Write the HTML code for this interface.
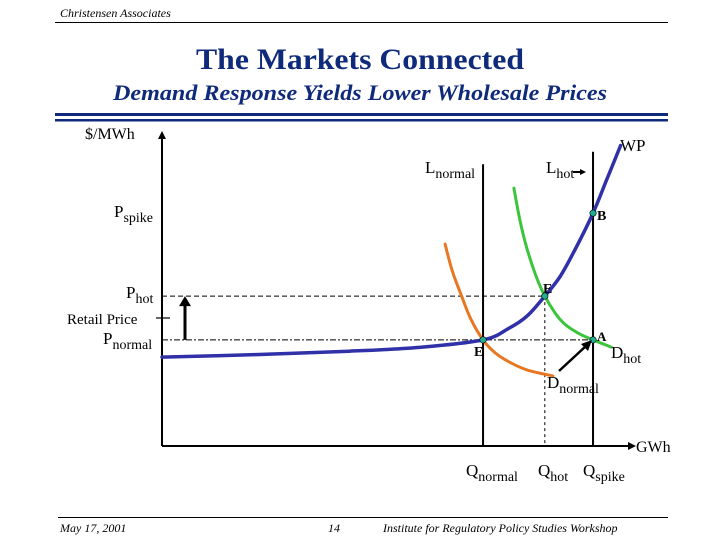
<!DOCTYPE html>
<html><head><meta charset="utf-8"><style>
html,body{margin:0;padding:0;background:#fff}
body{width:720px;height:540px;overflow:hidden;position:relative;font-family:"Liberation Serif",serif}
svg{position:absolute;left:0;top:0}
</style></head><body>
<svg width="720" height="540">
<text x="60" y="17" font-size="12" font-style="italic">Christensen Associates</text>
<line x1="55" y1="22.5" x2="668" y2="22.5" stroke="#000" stroke-width="1"/>
<text x="196" y="69" font-size="30" font-weight="bold" fill="#0f2a7a" textLength="328" lengthAdjust="spacingAndGlyphs">The Markets Connected</text>
<text x="113" y="100" font-size="22" font-weight="bold" font-style="italic" fill="#0f2a7a" textLength="494" lengthAdjust="spacingAndGlyphs">Demand Response Yields Lower Wholesale Prices</text>
<rect x="55" y="113" width="613" height="3" fill="#0f2a7a"/>
<rect x="55" y="119" width="613" height="2.5" fill="#0f2a7a"/>
<g id="chart"></g>
<line x1="58" y1="517.5" x2="668" y2="517.5" stroke="#000" stroke-width="1"/>
<text x="60" y="532" font-size="12" font-style="italic">May 17, 2001</text>
<text x="328" y="532" font-size="12" font-style="italic">14</text>
<text x="383" y="532" font-size="12" font-style="italic">Institute for Regulatory Policy Studies Workshop</text>
</svg>
<script>
const wpCurve=[[0,28.4],[20,29.2],[40,30.3],[55,31.5],[68.6,33.9],[74,37.5],[78,41.5],[81.8,47.9],[85,54],[88,62],[92.1,74.4],[95,85],[98,96]];
const dNormal=[[60.5,64.5],[62,56],[64,48],[66,40.5],[68.6,33.9],[71,30],[74,27],[78,24.3],[83.5,22.4]];
const dHot=[[75.2,82.4],[76.5,72],[78,63],[80,54],[81.8,47.9],[84,42.5],[86,39],[89,36],[92.1,33.9],[96,31.6]];
const qNormal=68.6, qHot=81.8, qSpike=92.1;
const pNormal=33.9, pHot=47.9, pSpike=74.4, pRetail=40.9;
const X=d=>162+d*4.68, Y=d=>446-d*3.13;
const g=document.getElementById('chart');
const NS='http://www.w3.org/2000/svg';
function mk(tag,attrs,name){const e=document.createElementNS(NS,tag);for(const k in attrs)e.setAttribute(k,attrs[k]);


g.appendChild(e);return e;}
function line(x1,y1,x2,y2,st,w,dash,name){const a={x1,y1,x2,y2,stroke:st,'stroke-width':w};if(dash)a['stroke-dasharray']=dash;return mk('line',a,name);}
function curve(pts,col,w,name){
  const P=pts.map(q=>[X(q[0]),Y(q[1])]);
  let d='M'+P[0][0].toFixed(1)+','+P[0][1].toFixed(1);
  for(let i=0;i<P.length-1;i++){
    const p0=P[Math.max(i-1,0)],p1=P[i],p2=P[i+1],p3=P[Math.min(i+2,P.length-1)];
    const c1=[p1[0]+(p2[0]-p0[0])/6,p1[1]+(p2[1]-p0[1])/6];
    const c2=[p2[0]-(p3[0]-p1[0])/6,p2[1]-(p3[1]-p1[1])/6];
    d+=` C${c1[0].toFixed(1)},${c1[1].toFixed(1)} ${c2[0].toFixed(1)},${c2[1].toFixed(1)} ${p2[0].toFixed(1)},${p2[1].toFixed(1)}`;
  }
  return mk('path',{d,fill:'none',stroke:col,'stroke-width':w,'stroke-linecap':'round'},name);}
function txt(x,y,s,sub,name,size,bold){const t=mk('text',{x,y,'font-size':size||16,'font-weight':bold?'bold':'normal'},name);t.textContent=s;if(sub){const ts=document.createElementNS(NS,'tspan');ts.setAttribute('dy','5');ts.setAttribute('font-size','14');ts.textContent=sub;t.appendChild(ts);}return t;}
line(X(0),Y(pHot),X(qHot),Y(pHot),'#000',1,'5,3','p-hot-guide');
line(X(0),Y(pNormal),X(qSpike),Y(pNormal),'#000',1,'6,2,2,2','p-normal-guide');
line(X(qHot),Y(pHot),X(qHot),446,'#000',1,'3,3','q-hot-guide');
line(X(qNormal),Y(90),X(qNormal),446,'#000',2,null,'l-normal-line');
line(X(qSpike),Y(94),X(qSpike),446,'#000',2,null,'l-hot-line');
line(162,446,628,446,'#000',2,null,'x-axis');
line(162,446,162,138,'#000',2,null,'y-axis');
mk('path',{d:'M628,442 L636,446 L628,450 Z',fill:'#000'},'x-axis-arrow');
mk('path',{d:'M158,139 L162,131 L166,139 Z',fill:'#000'},'y-axis-arrow');
line(156,Y(pRetail),170,Y(pRetail),'#000',1.2,null,'retail-price-tick');
curve(dNormal,'#e87722',3,'d-normal-curve');
curve(dHot,'#3cc43c',3,'d-hot-curve');
curve(wpCurve,'#3030a8',3.5,'wp-curve');
[[qNormal,pNormal,'point-e-normal'],[qHot,pHot,'point-e-hot'],[qSpike,pNormal,'point-a'],[qSpike,pSpike,'point-b']].forEach(p=>mk('circle',{cx:X(p[0]),cy:Y(p[1]),r:3.2,fill:'#20b090',stroke:'#000','stroke-width':0.6},p[2]));
line(185,Y(pNormal),185,Y(pHot)+8,'#000',3,null,'price-up-arrow');
mk('path',{d:`M179,${Y(pHot)+10} L185,${Y(pHot)} L191,${Y(pHot)+10} Z`,fill:'#000'},'price-up-arrowhead');
line(559,371,586,346,'#000',2.5,null,'demand-shift-arrow');
mk('path',{d:'M581,344 L592,340 L588,351 Z',fill:'#000'},'demand-shift-arrowhead');
line(573,172,582,172,'#000',2,null,'l-hot-shift-arrow');
mk('path',{d:'M580,169 L586,172 L580,175 Z',fill:'#000'},'l-hot-shift-arrowhead');
txt(85,139,'$/MWh','','y-axis-title');
txt(620,151,'WP','','wp-label',17);
txt(425,173,'L','normal','l-normal-label',17);
txt(546,173,'L','hot','l-hot-label',17);
txt(114,217,'P','spike','p-spike-label',17);
txt(597,220,'B','','point-b-label',14,true);
txt(126,298,'P','hot','p-hot-label',17);
txt(67,324,'Retail Price','','retail-price-label',15);
txt(103,344,'P','normal','p-normal-label',17);
txt(543,293,'E','','point-e-hot-label',14,true);
txt(474,356,'E','','point-e-normal-label',14,true);
txt(597,341,'A','','point-a-label',13,true);
txt(611,358,'D','hot','d-hot-label',17);
txt(547,388,'D','normal','d-normal-label',17);
txt(636,452,'GWh','','x-axis-title',16);
txt(466,476,'Q','normal','q-normal-label',17);
txt(538,476,'Q','hot','q-hot-label',17);
txt(583,476,'Q','spike','q-spike-label',17);
</script>
</body></html>
